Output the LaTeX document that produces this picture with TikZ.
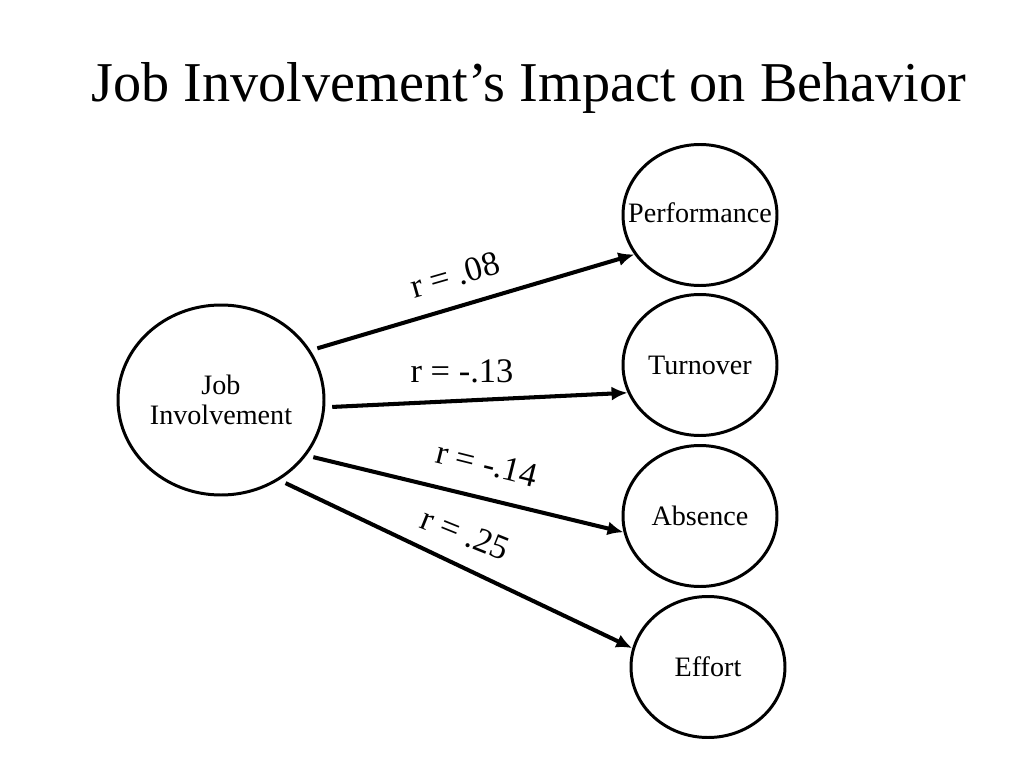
\documentclass[tikz,border=0pt]{standalone}
\usepackage{fontspec}
\setmainfont{Liberation Serif}
\usetikzlibrary{shapes.geometric,arrows.meta}

\tikzset{%
  factor/.style={draw, ellipse, line width=0.85pt, inner sep=0pt, minimum width=1.54cm, minimum height=1.41cm, font=\fontsize{8.000000}{9.600000}\selectfont},%
  link/.style={line width=1.15pt, shorten <=2pt, -{Latex[length=1.6mm,width=1.4mm]}},%
  rlabel/.style={font=\fontsize{9.800000}{11.800000}\selectfont, inner sep=0pt}%
}

\begin{document}
\begin{tikzpicture}%
\useasboundingbox (0, 0) rectangle (10.240000, -7.680000);%
\node[font=\fontsize{16.000000}{19.200000}\selectfont] (title) at (5.290000, -0.880000) {Job Involvement’s Impact on Behavior};%
\node[factor, minimum width=2.060000cm, minimum height=1.900000cm] (ji) at (2.210000, -4.000000) {\makebox[0pt]{\shortstack{Job\\Involvement}}};%
\node[factor] (perf) at (7.000000, -2.150000) {\makebox[0pt]{\raisebox{1.5pt}{Performance}}};%
\node[factor] (turn) at (7.000000, -3.650000) {\makebox[0pt]{Turnover}};%
\node[factor] (abs) at (7.000000, -5.160000) {\makebox[0pt]{Absence}};%
\node[factor] (eff) at (7.080000, -6.670000) {\makebox[0pt]{Effort}};%
\draw[link] (ji.29) -- (perf.211);%
\draw[link] (ji.356) -- (turn.201);%
\draw[link] (ji.327) -- (abs.192);%
\draw[link] (ji.306) -- (eff.166);%
\node[rlabel, rotate=16] (r1) at (4.550000, -2.750000) {r = .08};%
\node[rlabel] (r2) at (4.620000, -3.710000) {r = -.13};%
\node[rlabel, rotate=-14] (r3) at (4.870000, -4.640000) {r = -.14};%
\node[rlabel, rotate=-22] (r4) at (4.650000, -5.340000) {r = .25};%
\end{tikzpicture}
\end{document}
